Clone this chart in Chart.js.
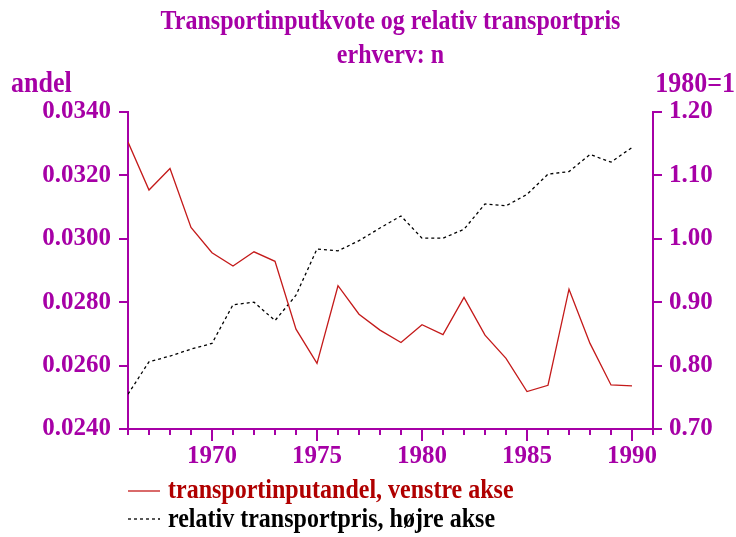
<!DOCTYPE html>
<html>
<head>
<meta charset="utf-8">
<script src="https://cdn.jsdelivr.net/npm/chart.js@4/dist/chart.umd.min.js"></script>
<style>
html,body{margin:0;padding:0;background:#fff;}
#wrap{width:736px;height:537px;position:relative;}
</style>
</head>
<body>
<div id="wrap"><canvas id="c" width="736" height="537"></canvas></div>
<script>
const years = [1966,1967,1968,1969,1970,1971,1972,1973,1974,1975,1976,1977,1978,1979,1980,1981,1982,1983,1984,1985,1986,1987,1988,1989,1990];
const transportinputandel = [0.03305,0.03154,0.03222,0.03036,0.02956,0.02914,0.02959,0.02929,0.02715,0.02607,0.02852,0.02762,0.02712,0.02673,0.02729,0.02698,0.02815,0.02696,0.02623,0.02518,0.02538,0.02841,0.02670,0.02539,0.02536];
const relativTransportpris = [0.755,0.806,0.815,0.826,0.835,0.896,0.900,0.871,0.911,0.984,0.981,0.997,1.017,1.036,1.001,1.001,1.015,1.055,1.052,1.070,1.102,1.106,1.133,1.121,1.144];
const leftTicks = [0.0240,0.0260,0.0280,0.0300,0.0320,0.0340];
const rightTicks = [0.70,0.80,0.90,1.00,1.10,1.20];
const xTickLabels = [1970,1975,1980,1985,1990];
const titleLines = ["Transportinputkvote og relativ transportpris","erhverv: n"];
const leftAxisTitle = "andel";
const rightAxisTitle = "1980=1";
const seriesNames = ["transportinputandel, venstre akse","relativ transportpris, højre akse"];

const MAG = '#a600a6';
const FONT = '"Liberation Serif", "Times New Roman", serif';

function tallText(ctx, txt, x, y, sy){
  ctx.save();
  ctx.translate(x, y);
  ctx.scale(1, sy);
  ctx.fillText(txt, 0, 0);
  ctx.restore();
}

const overlay = {
  id:'overlay',
  afterDraw(chart){
    const ctx = chart.ctx;
    const ca = chart.chartArea;
    const xs = chart.scales.x;
    ctx.save();
    // major x ticks
    ctx.strokeStyle = MAG; ctx.lineWidth = 2;
    xTickLabels.forEach(v=>{
      const px = Math.round(xs.getPixelForValue(v));
      ctx.beginPath(); ctx.moveTo(px, ca.bottom); ctx.lineTo(px, ca.bottom+12); ctx.stroke();
    });
    // titles
    ctx.fillStyle = MAG;
    ctx.textBaseline = 'middle';
    ctx.textAlign = 'center';
    ctx.font = 'bold 24px ' + FONT;
    const cx = (ca.left+ca.right)/2;
    tallText(ctx, titleLines[0], cx, 22, 1.12);
    tallText(ctx, titleLines[1], cx, 56, 1.12);
    ctx.font = 'bold 26px ' + FONT;
    ctx.textAlign = 'left';
    tallText(ctx, leftAxisTitle, 11, 85, 1.1);
    ctx.textAlign = 'right';
    tallText(ctx, rightAxisTitle, 735, 85, 1.1);
    // legend
    ctx.textAlign = 'left';
    ctx.font = 'bold 24px ' + FONT;
    const ds0 = chart.data.datasets[0];
    ctx.strokeStyle = ds0.borderColor; ctx.lineWidth = 1.3; ctx.setLineDash([]);
    ctx.beginPath(); ctx.moveTo(128, 491); ctx.lineTo(160, 491); ctx.stroke();
    ctx.fillStyle = '#b00000';
    tallText(ctx, seriesNames[0], 168, 491, 1.12);
    ctx.strokeStyle = '#000'; ctx.setLineDash([3,3]);
    ctx.beginPath(); ctx.moveTo(128, 519); ctx.lineTo(160, 519); ctx.stroke();
    ctx.setLineDash([]);
    ctx.fillStyle = '#000';
    tallText(ctx, seriesNames[1], 168, 520, 1.12);
    ctx.restore();
  }
};

new Chart(document.getElementById('c'), {
  type:'line',
  data:{
    datasets:[
      {label:seriesNames[0], data:years.map((y,i)=>({x:y,y:transportinputandel[i]})), yAxisID:'yL',
       borderColor:'#c41a1a', borderWidth:1.3, pointRadius:0, tension:0, fill:false},
      {label:seriesNames[1], data:years.map((y,i)=>({x:y,y:relativTransportpris[i]})), yAxisID:'yR',
       borderColor:'#000000', borderWidth:1.3, borderDash:[3,3], pointRadius:0, tension:0, fill:false}
    ]
  },
  options:{
    responsive:false, animation:false, devicePixelRatio:1,
    layout:{padding:{top:112,left:0,right:0,bottom:0}},
    plugins:{legend:{display:false}, title:{display:false}, tooltip:{enabled:false}},
    scales:{
      x:{type:'linear', min:1966, max:1991, position:'bottom',
         afterFit(s){ s.height = 108; },
         afterBuildTicks(s){ const t=[]; for(let y=1966;y<=1991;y++) t.push({value:y}); s.ticks=t; },
         ticks:{autoSkip:false, maxRotation:0, color:MAG, font:{family:FONT, size:25, weight:'bold'}, padding:7,
                callback:(v)=> xTickLabels.includes(v) ? String(v) : ''},
         grid:{drawOnChartArea:false, drawTicks:true, tickLength:6, color:MAG, lineWidth:2},
         border:{display:true, color:MAG, width:2}},
      yL:{type:'linear', position:'left', min:0.024, max:0.034,
         afterFit(s){ s.width = 128; },
         afterBuildTicks(s){ s.ticks = leftTicks.map(v=>({value:v})); },
         ticks:{color:MAG, font:{family:FONT, size:25, weight:'bold'}, padding:8, callback:(v)=>Number(v).toFixed(4)},
         grid:{drawOnChartArea:false, drawTicks:true, tickLength:9, color:MAG, lineWidth:2},
         border:{display:true, color:MAG, width:2}},
      yR:{type:'linear', position:'right', min:0.70, max:1.20,
         afterFit(s){ s.width = 83; },
         afterBuildTicks(s){ s.ticks = rightTicks.map(v=>({value:v})); },
         ticks:{color:MAG, font:{family:FONT, size:25, weight:'bold'}, padding:7, callback:(v)=>Number(v).toFixed(2)},
         grid:{drawOnChartArea:false, drawTicks:true, tickLength:9, color:MAG, lineWidth:2},
         border:{display:true, color:MAG, width:2}}
    }
  },
  plugins:[overlay]
});
</script>
</body>
</html>
